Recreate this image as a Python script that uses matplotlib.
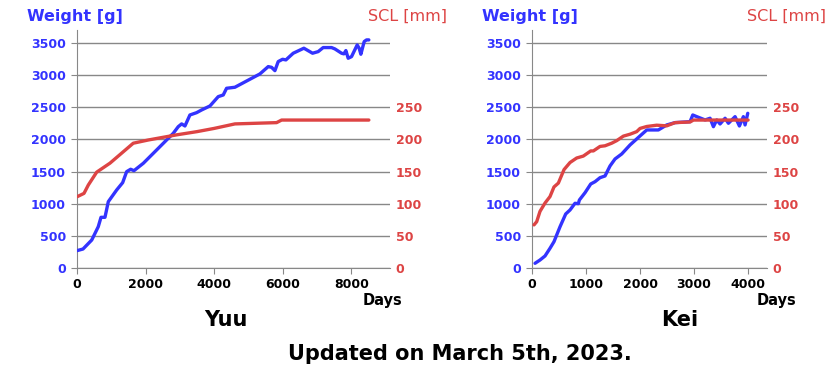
import matplotlib.pyplot as plt

# Yuu
yuu_w_days = [0, 175, 430, 620, 700, 816, 913, 1157, 1332, 1448, 1565, 1662, 1934, 2323,
              2808, 2953, 3052, 3149, 3294, 3489, 3635, 3878, 4120, 4266, 4363, 4606,
              5335, 5578, 5675, 5773, 5869, 5997, 6093, 6307, 6618, 6871, 7035, 7181,
              7425, 7522, 7717, 7785, 7843, 7910, 8008, 8173, 8231, 8280, 8377, 8446, 8513]
yuu_weight = [270, 295, 435, 642, 788, 788, 1031, 1213, 1327, 1498, 1535, 1513, 1628, 1835,
              2094, 2197, 2240, 2208, 2379, 2415, 2457, 2519, 2664, 2690, 2794, 2810,
              3017, 3131, 3120, 3068, 3209, 3245, 3235, 3339, 3417, 3339, 3364, 3427,
              3427, 3406, 3339, 3329, 3380, 3261, 3286, 3468, 3416, 3323, 3520, 3546, 3546]
yuu_s_days = [10, 204, 330, 574, 962, 1641, 2079, 2906, 3500, 4000, 4606, 5822, 5968, 8513]
yuu_scl = [111, 116, 129, 149, 163, 194, 199, 207, 212, 217, 224, 226, 230, 230]

# Kei
kei_w_days = [56, 148, 241, 333, 407, 519, 624, 704, 796, 858, 877, 982, 1087, 1167, 1259,
              1352, 1444, 1537, 1661, 1815, 2000, 2124, 2339, 2494, 2648, 2926, 2976,
              3050, 3204, 3296, 3358, 3420, 3481, 3574, 3636, 3759, 3839, 3913, 3944, 3994]
kei_weight = [73, 124, 187, 306, 409, 642, 840, 902, 1006, 1000, 1057, 1171, 1306, 1342, 1404,
              1431, 1586, 1695, 1773, 1913, 2053, 2146, 2146, 2224, 2260, 2275, 2379,
              2353, 2302, 2328, 2197, 2302, 2239, 2328, 2250, 2353, 2208, 2353, 2224, 2405]
kei_s_days = [37, 87, 148, 241, 333, 407, 488, 593, 704, 827, 950, 1087, 1136, 1259, 1352,
              1475, 1568, 1691, 1815, 1938, 2000, 2124, 2309, 2494, 2648, 2926, 2988, 4000]
kei_scl = [67, 72, 88, 101, 111, 126, 132, 153, 164, 171, 174, 182, 182, 189, 190,
           194, 198, 205, 208, 212, 217, 220, 222, 221, 226, 227, 230, 230]

BLUE = '#3333ff'
RED = '#dd4444'
GRID = '#888888'

W, H = 833, 370
fig = plt.figure(figsize=(W / 100, H / 100), dpi=100)


def px(x, y):
    return x / W, 1 - y / H


def panel(left, right, xmax, xticks, wd, wv, sd, sv):
    ax = fig.add_axes([left / W, 1 - 268 / H, (right - left) / W, (268 - 30) / H])
    ax.set_xlim(0, xmax)
    ax.set_ylim(0, 3700)
    ax.set_yticks(range(0, 3501, 500))
    ax.set_xticks(xticks)
    ax.grid(axis='y', color=GRID, lw=1)
    ax.set_axisbelow(True)
    for s in ['top', 'right']:
        ax.spines[s].set_visible(False)
    for s in ['left', 'bottom']:
        ax.spines[s].set_color(GRID)
    ax.tick_params(axis='y', length=4, color=GRID, pad=4, labelcolor=BLUE, labelsize=9)
    ax.tick_params(axis='x', length=4, color=GRID, labelsize=9)
    for t in ax.get_yticklabels() + ax.get_xticklabels():
        t.set_fontweight('bold')
    ax2 = ax.twinx()
    ax2.set_ylim(0, 370)
    ax2.set_yticks(range(0, 251, 50))
    for s in ax2.spines.values():
        s.set_visible(False)
    ax2.tick_params(axis='y', length=0, pad=4, labelcolor=RED, labelsize=9)
    for t in ax2.get_yticklabels():
        t.set_fontweight('bold')
    ax2.plot(sd, sv, color=RED, lw=2.4, solid_capstyle='round', zorder=2)
    ax2.plot(wd, [w / 10 for w in wv], color=BLUE, lw=2.4, zorder=1,
             solid_capstyle='round')
    return ax


panel(77, 390, 9130, [0, 2000, 4000, 6000, 8000],
      yuu_w_days, yuu_weight, yuu_s_days, yuu_scl)
panel(532, 767, 4350, [0, 1000, 2000, 3000, 4000],
      kei_w_days, kei_weight, kei_s_days, kei_scl)

fig.text(*px(27, 16), 'Weight [g]', color=BLUE, fontsize=11.5, fontweight='bold',
         va='center', ha='left')
fig.text(*px(447, 16), 'SCL [mm]', color=RED, fontsize=11.5,
         va='center', ha='right')
fig.text(*px(482, 16), 'Weight [g]', color=BLUE, fontsize=11.5, fontweight='bold',
         va='center', ha='left')
fig.text(*px(826, 16), 'SCL [mm]', color=RED, fontsize=11.5,
         va='center', ha='right')
fig.text(*px(383, 300), 'Days', fontsize=10.5, fontweight='bold', ha='center', va='center')
fig.text(*px(777, 300), 'Days', fontsize=10.5, fontweight='bold', ha='center', va='center')
fig.text(*px(226, 320), 'Yuu', fontsize=15, fontweight='bold', ha='center', va='center')
fig.text(*px(680, 320), 'Kei', fontsize=15, fontweight='bold', ha='center', va='center')
fig.text(*px(460, 354), 'Updated on March 5th, 2023.', fontsize=15, fontweight='bold',
         ha='center', va='center')

fig.savefig('out.png', dpi=100)
